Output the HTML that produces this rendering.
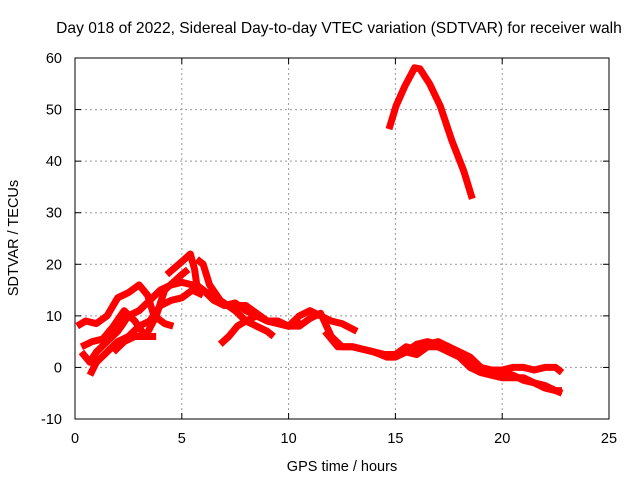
<!DOCTYPE html>
<html><head><meta charset="utf-8"><style>
body{margin:0;background:#fff}
svg{display:block;font-family:"Liberation Sans",sans-serif}
</style></head><body>
<svg width="640" height="480" viewBox="0 0 640 480">
<text x="339" y="33" text-anchor="middle" font-size="15.6">Day 018 of 2022, Sidereal Day-to-day VTEC variation (SDTVAR) for receiver walh</text>
<g id="grid"></g>
<g id="ticks"></g>
<g id="series"></g>
<rect x="75" y="58" width="534" height="361" fill="none" stroke="#000" stroke-width="1"/>
<text x="342" y="471" text-anchor="middle" font-size="14.5">GPS time / hours</text>
<text transform="translate(18,238) rotate(-90)" text-anchor="middle" font-size="14.5">SDTVAR / TECUs</text>
</svg>
<script>
const xTicks=[0,5,10,15,20,25];
const yTicks=[-10,0,10,20,30,40,50,60];
const trackHigh=[[14.7,46.2],[15.03,50.7],[15.45,54.6],[15.9,58.1],[16.15,57.9],[16.6,55],[17.1,50.7],[17.65,43.9],[18.2,38.1],[18.6,32.7]];
const trackA=[[0.1,8],[0.5,9],[1,8.5],[1.5,10],[2,13.5],[2.5,14.5],[3,16],[3.4,14],[3.7,10],[4.2,8.5],[4.6,8]];
const trackB=[[0.3,4],[0.8,5],[1.3,5.5],[1.8,8],[2.3,11],[2.8,9],[3.3,6],[3.8,6]];
const trackC=[[0.3,3],[0.7,1],[1,3],[1.5,5],[2,7],[2.5,10],[3,11],[3.5,13],[4,15],[4.5,16],[5,16.5],[5.5,16],[6,15],[7,12],[8,12],[9,9],[10,8],[10.5,9.5]];
const trackD=[[0.7,-1.5],[1,1],[1.5,3],[2,5],[2.5,6],[3,8],[3.5,9],[4,12],[4.5,13],[5,13.5],[5.5,15],[6,14]];
const trackE=[[1.8,3],[2.3,5],[2.8,6],[3.3,6],[3.8,10],[4.2,15],[4.6,16.5],[5,18],[5.3,19]];
const trackF=[[4.3,18],[5,20.5],[5.4,22],[5.6,19],[5.7,16],[6,15],[6.5,13],[7,12],[7.5,12.5],[8,11],[8.5,10],[9,9],[9.5,8.5],[10,8],[10.5,10],[11,11],[11.5,10],[12,9],[12.5,8.5],[13.2,7]];
const trackG=[[5.7,21],[6,20],[6.3,16],[6.8,13],[7.5,11],[8,9],[8.5,8],[9,7],[9.3,6]];
const trackH=[[6.8,4.5],[7.2,6],[7.6,8],[8,9],[8.5,10],[9,9],[9.5,9],[10,8],[10.5,8],[11,9.5],[11.5,10.5],[12,6],[12.5,4],[13,4],[13.5,3.5],[14,3],[14.5,2.5],[15,2.5],[15.5,4],[16,3.5],[16.5,4.5],[17,5],[17.5,4],[18,3],[18.5,2],[19,0],[19.5,-1],[20,-1],[20.5,-1.5],[21,-2.5],[21.5,-3],[22,-3.5],[22.5,-4.5],[22.8,-5]];
const trackI=[[11.7,7],[12.3,4],[13,4],[14,3],[14.6,2],[15,2],[15.5,3],[16,4.5],[16.5,5],[17,4.5],[17.5,3.5],[18,2.5],[18.5,1],[19,0],[19.5,-0.5],[20,-0.5],[20.5,0],[21,0],[21.5,-0.5],[22,0],[22.5,0],[22.8,-1]];
const trackJ=[[15.5,3],[16,2.5],[16.5,4],[17,4],[17.5,3],[18,2],[18.5,0],[19,-1],[19.5,-1.5],[20,-2],[20.5,-2],[21,-2],[21.5,-3],[22,-4],[22.5,-4.5],[22.8,-4.5]];
const tracks=[trackHigh,trackA,trackB,trackC,trackD,trackE,trackF,trackG,trackH,trackI,trackJ];
const X0=75,X1=609,Y0=419,Y1=58;
function sx(v){return X0+(v-0)/25*(X1-X0);}
function sy(v){return Y0-(v+10)/70*(Y0-Y1);}
const NS='http://www.w3.org/2000/svg';
const grid=document.getElementById('grid'),ticks=document.getElementById('ticks'),series=document.getElementById('series');
function mk(t,a,p){const e=document.createElementNS(NS,t);for(const k in a)e.setAttribute(k,a[k]);p.appendChild(e);return e;}
xTicks.forEach(v=>{const x=sx(v);
 if(v>0&&v<25){const g=mk('line',{x1:x,y1:Y1,x2:x,y2:Y0,stroke:'#999','stroke-dasharray':'2,3'},grid);
 
 }
 const t1=mk('line',{x1:x,y1:Y0,x2:x,y2:Y0-6,stroke:'#000'},ticks);
 
 
 const t2=mk('line',{x1:x,y1:Y1,x2:x,y2:Y1+6,stroke:'#000'},ticks);
 
 
 const l=mk('text',{x:x,y:443,'text-anchor':'middle','font-size':14.5},ticks);l.textContent=v;
 
 
});
yTicks.forEach(v=>{const y=sy(v);
 if(v>-10&&v<60){const g=mk('line',{x1:X0,y1:y,x2:X1,y2:y,stroke:'#999','stroke-dasharray':'2,3'},grid);
 
 }
 const t1=mk('line',{x1:X0,y1:y,x2:X0+6,y2:y,stroke:'#000'},ticks);
 
 
 const t2=mk('line',{x1:X1,y1:y,x2:X1-6,y2:y,stroke:'#000'},ticks);
 
 
 const l=mk('text',{x:62,y:y+5,'text-anchor':'end','font-size':14.5},ticks);l.textContent=v;
 
 
});
tracks.forEach(tr=>{
 const p=mk('polyline',{points:tr.map(d=>sx(d[0])+','+sy(d[1])).join(' '),fill:'none',stroke:'#f00','stroke-width':7,'stroke-linejoin':'round','stroke-linecap':'butt'},series);
 
 
});
</script>
</body></html>
